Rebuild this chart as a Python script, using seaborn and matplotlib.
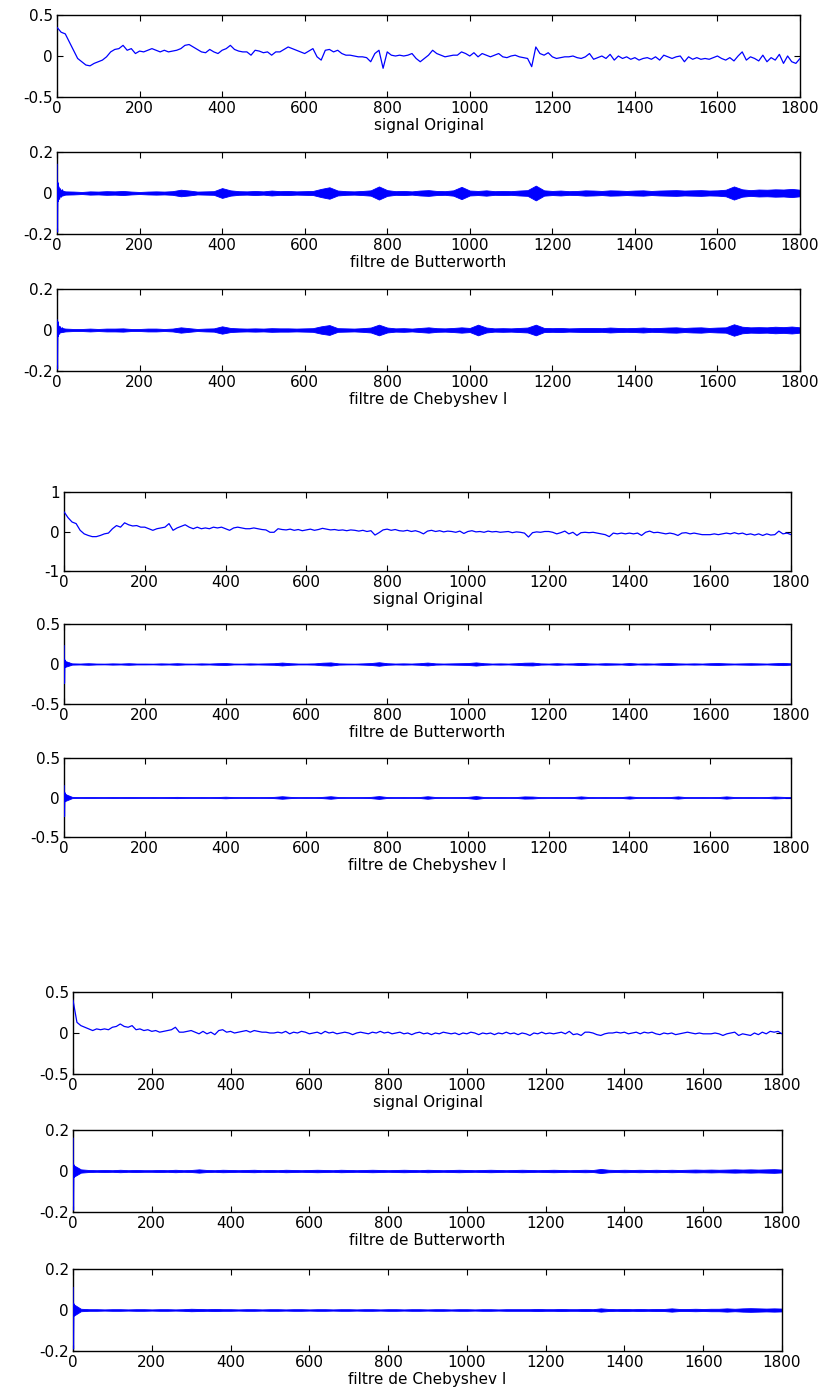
import numpy as np
import pandas as pd
import seaborn as sns
import matplotlib
matplotlib.use('Agg')
import matplotlib.pyplot as plt

# sample index of the original signals (step 10) and of the filter envelopes (step 20)
x_orig = list(range(0, 1801, 10))
x_band = list(range(0, 1801, 20))
# first samples of each filtered signal (start-up transient of the filter)
x_trans = [0, 1, 2, 3, 4, 6, 8, 10, 13, 16]

# --- group 1 ---
orig_1 = [0.35, 0.29, 0.27, 0.17, 0.07, -0.03, -0.07, -0.11, -0.12, -0.09,
          -0.07, -0.05, -0.01, 0.05, 0.08, 0.09, 0.13, 0.07, 0.09, 0.03,
          0.06, 0.05, 0.07, 0.09, 0.07, 0.05, 0.07, 0.05, 0.06, 0.07,
          0.09, 0.13, 0.14, 0.11, 0.08, 0.05, 0.04, 0.08, 0.05, 0.03,
          0.07, 0.09, 0.13, 0.08, 0.06, 0.05, 0.05, 0.01, 0.07, 0.06,
          0.04, 0.05, 0.01, 0.05, 0.05, 0.08, 0.11, 0.09, 0.07, 0.05,
          0.03, 0.06, 0.09, -0.01, -0.05, 0.07, 0.08, 0.05, 0.07, 0.03,
          0.01, 0.01, 0.00, -0.01, -0.01, -0.02, -0.07, 0.03, 0.07, -0.15,
          0.05, 0.01, 0.00, 0.01, 0.00, 0.01, 0.03, -0.03, -0.07, -0.03,
          0.01, 0.07, 0.03, 0.01, -0.01, 0.00, 0.01, 0.01, 0.05, 0.03,
          0.00, 0.04, -0.01, 0.03, 0.01, -0.01, 0.01, 0.03, -0.01, -0.02,
          0.00, 0.01, -0.01, -0.02, -0.03, -0.13, 0.11, 0.03, 0.01, 0.04,
          -0.01, -0.03, -0.02, -0.01, -0.01, 0.00, -0.02, -0.03, -0.01, 0.03,
          -0.04, -0.02, 0.00, -0.03, 0.02, -0.05, 0.00, -0.03, -0.01, -0.04,
          -0.02, -0.05, -0.03, -0.02, -0.04, -0.01, -0.05, 0.01, -0.01, -0.03,
          -0.01, 0.00, -0.07, -0.01, -0.04, -0.02, -0.04, -0.03, -0.04, -0.02,
          0.00, -0.03, -0.05, -0.02, -0.06, 0.00, 0.05, -0.05, -0.01, -0.03,
          -0.06, 0.01, -0.07, -0.02, -0.05, 0.02, -0.09, 0.00, -0.07, -0.09,
          -0.03]
butter_1_amp = [0.02, 0.008, 0.007, 0.005, 0.008, 0.007, 0.009, 0.008, 0.01, 0.007,
                0.005, 0.007, 0.008, 0.007, 0.009, 0.016, 0.012, 0.007, 0.008, 0.009,
                0.024, 0.013, 0.009, 0.008, 0.01, 0.008, 0.012, 0.009, 0.01, 0.008,
                0.009, 0.01, 0.02, 0.028, 0.012, 0.009, 0.008, 0.01, 0.013, 0.032,
                0.014, 0.009, 0.01, 0.008, 0.012, 0.014, 0.01, 0.009, 0.013, 0.03,
                0.012, 0.01, 0.013, 0.009, 0.01, 0.009, 0.012, 0.014, 0.036, 0.013,
                0.01, 0.012, 0.009, 0.01, 0.013, 0.012, 0.01, 0.013, 0.012, 0.01,
                0.012, 0.013, 0.01, 0.012, 0.013, 0.014, 0.012, 0.013, 0.014, 0.012,
                0.013, 0.016, 0.032, 0.018, 0.014, 0.017, 0.016, 0.018, 0.017, 0.02,
                0.016]
butter_1_trans = [0.14, -0.19, 0.05, -0.04, 0.03, -0.03, 0.02, -0.02, 0.015, -0.01]
cheby_1_amp = [0.014, 0.007, 0.005, 0.005, 0.007, 0.005, 0.007, 0.007, 0.008, 0.005,
               0.005, 0.007, 0.007, 0.005, 0.007, 0.013, 0.009, 0.005, 0.007, 0.008,
               0.018, 0.01, 0.008, 0.007, 0.008, 0.007, 0.009, 0.008, 0.008, 0.007,
               0.008, 0.009, 0.018, 0.024, 0.009, 0.008, 0.007, 0.009, 0.012, 0.026,
               0.012, 0.008, 0.009, 0.007, 0.01, 0.013, 0.009, 0.008, 0.01, 0.013,
               0.01, 0.026, 0.012, 0.008, 0.009, 0.008, 0.01, 0.012, 0.026, 0.01,
               0.009, 0.01, 0.008, 0.009, 0.01, 0.01, 0.009, 0.012, 0.01, 0.009,
               0.01, 0.012, 0.009, 0.01, 0.012, 0.013, 0.01, 0.012, 0.013, 0.01,
               0.012, 0.013, 0.028, 0.016, 0.013, 0.014, 0.013, 0.016, 0.014, 0.017,
               0.013]
cheby_1_trans = [0.05, -0.19, 0.04, -0.03, 0.02, -0.02, 0.015, -0.01, 0.01, -0.008]

# --- group 2 ---
orig_2 = [0.50, 0.35, 0.24, 0.20, 0.03, -0.06, -0.10, -0.13, -0.13, -0.10,
          -0.06, -0.04, 0.07, 0.15, 0.11, 0.22, 0.17, 0.14, 0.15, 0.11,
          0.11, 0.07, 0.03, 0.07, 0.09, 0.11, 0.20, 0.03, 0.09, 0.13,
          0.17, 0.11, 0.07, 0.11, 0.07, 0.09, 0.07, 0.11, 0.09, 0.11,
          0.07, 0.03, 0.09, 0.11, 0.09, 0.07, 0.07, 0.09, 0.07, 0.05,
          0.04, -0.02, -0.02, 0.07, 0.05, 0.04, 0.06, 0.03, 0.05, 0.02,
          0.04, 0.06, 0.03, 0.05, 0.08, 0.06, 0.04, 0.05, 0.03, 0.04,
          0.02, 0.04, 0.03, 0.01, 0.03, 0.00, 0.02, -0.09, -0.03, 0.04,
          0.06, 0.03, 0.05, 0.02, 0.01, 0.03, 0.00, 0.02, -0.01, -0.06,
          0.01, 0.03, 0.00, 0.02, -0.01, 0.01, 0.00, -0.02, 0.01, -0.05,
          0.00, 0.02, -0.01, 0.00, -0.02, 0.01, -0.01, 0.00, -0.02, -0.01,
          0.00, -0.03, -0.01, -0.02, -0.04, -0.14, -0.03, -0.01, -0.02, 0.00,
          0.00, -0.02, -0.06, -0.03, 0.01, -0.06, -0.02, -0.10, -0.03, -0.02,
          -0.03, -0.02, -0.04, -0.06, -0.08, -0.13, -0.04, -0.06, -0.04, -0.06,
          -0.04, -0.06, -0.04, -0.10, -0.02, 0.01, -0.03, -0.02, -0.04, -0.06,
          -0.04, -0.06, -0.10, -0.04, -0.03, -0.06, -0.04, -0.06, -0.08, -0.08,
          -0.08, -0.06, -0.08, -0.06, -0.04, -0.06, -0.03, -0.06, -0.04, -0.08,
          -0.06, -0.09, -0.06, -0.10, -0.06, -0.09, -0.08, 0.01, -0.06, -0.04,
          -0.08]
butter_2_amp = [0.04, 0.008, 0.006, 0.01, 0.006, 0.005, 0.008, 0.006, 0.01, 0.006,
                0.006, 0.005, 0.008, 0.006, 0.01, 0.006, 0.005, 0.008, 0.006, 0.01,
                0.012, 0.006, 0.005, 0.008, 0.006, 0.008, 0.01, 0.018, 0.01, 0.006,
                0.006, 0.008, 0.016, 0.02, 0.008, 0.006, 0.005, 0.008, 0.012, 0.022,
                0.01, 0.006, 0.008, 0.006, 0.01, 0.018, 0.008, 0.006, 0.008, 0.01,
                0.012, 0.02, 0.01, 0.006, 0.008, 0.006, 0.01, 0.016, 0.018, 0.008,
                0.006, 0.01, 0.006, 0.008, 0.014, 0.008, 0.006, 0.01, 0.008, 0.006,
                0.012, 0.006, 0.008, 0.006, 0.01, 0.012, 0.008, 0.006, 0.008, 0.006,
                0.01, 0.012, 0.008, 0.006, 0.008, 0.01, 0.008, 0.006, 0.01, 0.014,
                0.008]
butter_2_trans = [0.23, -0.24, 0.05, -0.04, 0.03, -0.02, 0.02, -0.015, 0.01, -0.008]
cheby_2_amp = [0.05, 0.008, 0.005, 0.006, 0.005, 0.004, 0.006, 0.005, 0.006, 0.005,
               0.004, 0.005, 0.004, 0.006, 0.008, 0.005, 0.004, 0.005, 0.004, 0.006,
               0.01, 0.005, 0.004, 0.005, 0.004, 0.005, 0.008, 0.016, 0.008, 0.004,
               0.005, 0.004, 0.008, 0.016, 0.006, 0.004, 0.004, 0.005, 0.008, 0.018,
               0.006, 0.004, 0.005, 0.004, 0.006, 0.016, 0.006, 0.004, 0.004, 0.005,
               0.008, 0.018, 0.006, 0.004, 0.005, 0.004, 0.006, 0.014, 0.012, 0.005,
               0.004, 0.005, 0.004, 0.006, 0.014, 0.006, 0.004, 0.005, 0.004, 0.006,
               0.014, 0.005, 0.004, 0.005, 0.004, 0.006, 0.014, 0.005, 0.004, 0.005,
               0.004, 0.006, 0.014, 0.006, 0.004, 0.005, 0.004, 0.006, 0.012, 0.008,
               0.005]
cheby_2_trans = [0.15, -0.24, 0.06, -0.05, 0.04, -0.03, 0.02, -0.015, 0.01, -0.008]

# --- group 3 ---
orig_3 = [0.40, 0.13, 0.09, 0.07, 0.05, 0.03, 0.05, 0.04, 0.05, 0.04,
          0.07, 0.08, 0.11, 0.08, 0.07, 0.09, 0.04, 0.05, 0.03, 0.04,
          0.02, 0.03, 0.01, 0.02, 0.03, 0.04, 0.07, 0.01, 0.01, 0.02,
          0.03, 0.01, -0.01, 0.02, -0.01, 0.01, -0.02, 0.03, 0.04, 0.01,
          0.02, 0.00, 0.01, 0.02, 0.03, 0.01, 0.03, 0.02, 0.01, 0.01,
          0.00, 0.00, 0.01, 0.00, 0.02, -0.01, 0.01, 0.00, 0.02, 0.01,
          -0.01, 0.00, 0.01, -0.01, 0.02, 0.00, 0.01, -0.01, 0.00, 0.01,
          0.00, -0.02, 0.00, 0.01, 0.00, -0.01, 0.01, 0.00, 0.02, 0.00,
          0.01, -0.01, 0.00, 0.01, -0.01, 0.00, -0.02, 0.00, 0.01, -0.01,
          0.00, -0.02, 0.00, -0.01, 0.01, 0.00, -0.01, 0.00, -0.02, 0.00,
          -0.01, 0.01, 0.00, -0.02, 0.00, -0.01, 0.00, -0.02, 0.00, -0.01,
          0.01, -0.01, 0.00, -0.02, 0.00, -0.01, -0.03, 0.00, -0.01, 0.01,
          -0.01, 0.00, -0.01, 0.00, 0.01, -0.01, 0.02, -0.02, -0.01, -0.03,
          0.01, 0.01, 0.00, -0.02, -0.03, -0.01, 0.00, 0.00, 0.01, 0.00,
          0.01, -0.01, 0.00, 0.01, -0.01, 0.01, 0.00, 0.01, -0.01, -0.02,
          0.00, -0.01, 0.00, -0.02, -0.01, 0.00, 0.01, 0.00, -0.01, 0.00,
          -0.01, -0.01, -0.01, 0.00, -0.01, -0.03, -0.01, 0.00, 0.01, -0.03,
          -0.01, -0.02, -0.03, 0.00, -0.02, 0.01, -0.01, 0.02, 0.01, 0.02,
          -0.01]
butter_3_amp = [0.03, 0.008, 0.005, 0.004, 0.005, 0.004, 0.006, 0.004, 0.005, 0.004,
                0.004, 0.005, 0.004, 0.006, 0.004, 0.005, 0.008, 0.005, 0.004, 0.006,
                0.005, 0.004, 0.005, 0.006, 0.004, 0.005, 0.004, 0.006, 0.005, 0.004,
                0.005, 0.006, 0.005, 0.004, 0.006, 0.005, 0.004, 0.005, 0.006, 0.005,
                0.004, 0.005, 0.006, 0.005, 0.004, 0.006, 0.005, 0.004, 0.005, 0.006,
                0.005, 0.004, 0.005, 0.006, 0.005, 0.004, 0.005, 0.006, 0.005, 0.004,
                0.005, 0.006, 0.005, 0.004, 0.005, 0.006, 0.005, 0.01, 0.006, 0.005,
                0.006, 0.005, 0.006, 0.005, 0.006, 0.005, 0.006, 0.005, 0.006, 0.007,
                0.006, 0.007, 0.006, 0.007, 0.008, 0.007, 0.008, 0.007, 0.008, 0.009,
                0.007]
butter_3_trans = [0.16, -0.19, 0.03, -0.03, 0.02, -0.02, 0.015, -0.01, 0.01, -0.006]
cheby_3_amp = [0.03, 0.006, 0.004, 0.004, 0.003, 0.004, 0.004, 0.003, 0.004, 0.004,
               0.003, 0.004, 0.004, 0.003, 0.004, 0.006, 0.005, 0.004, 0.005, 0.004,
               0.004, 0.003, 0.004, 0.004, 0.003, 0.004, 0.004, 0.003, 0.004, 0.004,
               0.003, 0.004, 0.004, 0.003, 0.004, 0.004, 0.003, 0.004, 0.004, 0.003,
               0.004, 0.004, 0.003, 0.004, 0.004, 0.003, 0.004, 0.004, 0.003, 0.004,
               0.004, 0.003, 0.004, 0.004, 0.003, 0.004, 0.004, 0.004, 0.004, 0.005,
               0.004, 0.004, 0.005, 0.004, 0.004, 0.005, 0.004, 0.008, 0.005, 0.004,
               0.005, 0.004, 0.005, 0.004, 0.005, 0.005, 0.008, 0.005, 0.005, 0.006,
               0.005, 0.006, 0.006, 0.008, 0.006, 0.008, 0.009, 0.008, 0.007, 0.008,
               0.007]
cheby_3_trans = [0.11, -0.19, 0.03, -0.025, 0.02, -0.015, 0.012, -0.01, 0.008, -0.005]

labels = ['signal Original', 'filtre de Butterworth', 'filtre de Chebyshev I']

sns.set_style('ticks')
plt.rcParams['font.family'] = ['DejaVu Sans']

fig = plt.figure(figsize=(8.3, 13.96), dpi=100)
W, H = 830, 1396


def make_ax(left, top, right, bottom):
    return fig.add_axes([left / W, 1 - bottom / H, (right - left) / W, (bottom - top) / H])


def style(ax, lim, label):
    ax.set_xlim(0, 1800)
    ax.set_ylim(-lim, lim)
    ax.set_xticks(range(0, 1801, 200))
    yt = [-lim, 0, lim]
    ax.set_yticks(yt)
    ax.set_yticklabels([f'{t:g}' for t in yt])
    ax.tick_params(direction='in', top=True, right=True, length=4, width=0.8,
                   labelsize=11, pad=3, colors='black')
    ax.set_xlabel(label, fontsize=11, labelpad=1, color='black')
    ax.set_ylabel('')
    for s in ax.spines.values():
        s.set_linewidth(1.0)
        s.set_color('black')


def draw_orig(ax, y):
    sns.lineplot(x=x_orig, y=y, ax=ax, color='blue', linewidth=0.9,
                 estimator=None, errorbar=None, zorder=3)


def draw_filt(ax, amp, trans):
    amp = np.array(amp)
    ax.fill_between(x_band, -amp, amp, color='blue', linewidth=0.6)
    sns.lineplot(x=x_trans, y=trans, ax=ax, color='blue', linewidth=1.0,
                 estimator=None, errorbar=None, zorder=3)


groups = [
    # (left, right, tops, bottoms, limits, series)
    (57, 800, [15, 152, 289], [97, 234, 371], [0.5, 0.2, 0.2],
     [orig_1, (butter_1_amp, butter_1_trans), (cheby_1_amp, cheby_1_trans)]),
    (64, 791, [492, 624, 758], [571, 704, 837], [1, 0.5, 0.5],
     [orig_2, (butter_2_amp, butter_2_trans), (cheby_2_amp, cheby_2_trans)]),
    (73, 782, [992, 1130, 1269], [1074, 1212, 1351], [0.5, 0.2, 0.2],
     [orig_3, (butter_3_amp, butter_3_trans), (cheby_3_amp, cheby_3_trans)]),
]

for left, right, tops, bottoms, lims, series in groups:
    for i in range(3):
        ax = make_ax(left, tops[i], right, bottoms[i])
        if i == 0:
            draw_orig(ax, series[0])
        else:
            draw_filt(ax, series[i][0], series[i][1])
        style(ax, lims[i], labels[i])

fig.savefig('out.png', dpi=100, facecolor='white')
